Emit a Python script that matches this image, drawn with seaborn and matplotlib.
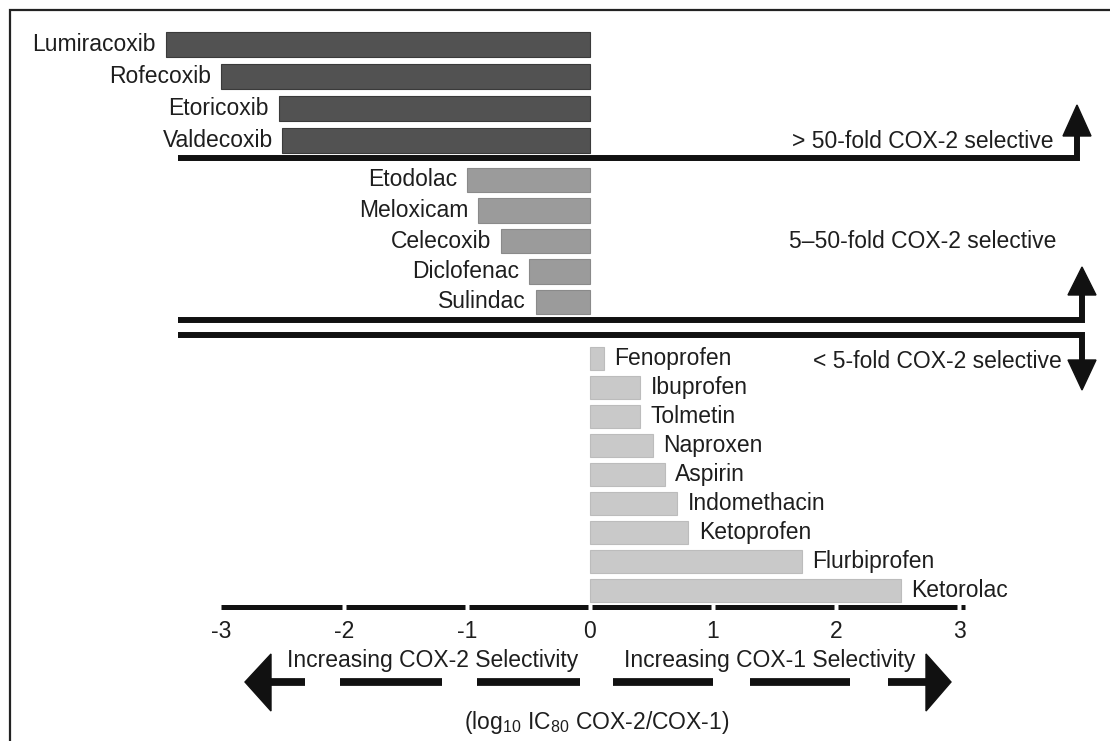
import matplotlib
matplotlib.use("Agg")
import matplotlib.pyplot as plt
import seaborn as sns
from matplotlib.patches import Polygon

# log10 IC80 ratio (COX-2 / COX-1) per drug, split by selectivity class
high_sel_names = ["Lumiracoxib", "Rofecoxib", "Etoricoxib", "Valdecoxib"]
high_sel_vals = [-3.45, -3.0, -2.53, -2.5]

mid_sel_names = ["Etodolac", "Meloxicam", "Celecoxib", "Diclofenac", "Sulindac"]
mid_sel_vals = [-1.0, -0.91, -0.72, -0.5, -0.44]

low_sel_names = ["Fenoprofen", "Ibuprofen", "Tolmetin", "Naproxen", "Aspirin",
                 "Indomethacin", "Ketoprofen", "Flurbiprofen", "Ketorolac"]
low_sel_vals = [0.11, 0.41, 0.41, 0.51, 0.61, 0.71, 0.8, 1.72, 2.53]

tick_vals = [-3, -2, -1, 0, 1, 2, 3]
tick_labels = ["-3", "-2", "-1", "0", "1", "2", "3"]

class_labels = ["> 50-fold COX-2 selective", "5\u201350-fold COX-2 selective",
                "< 5-fold COX-2 selective"]

sns.set_style("white")
plt.rcParams["font.family"] = ["Liberation Sans", "DejaVu Sans"]
plt.rcParams["mathtext.default"] = "regular"
plt.rcParams["mathtext.fontset"] = "custom"
plt.rcParams["mathtext.rm"] = "Liberation Sans"

W, H = 1110, 741
FS = 16.5
TXT = "#1e1e1e"
fig = plt.figure(figsize=(W / 100, H / 100), dpi=100)

# shared horizontal scale: value 0 at px 590, 123 px per unit
X0, PPU = 590.0, 123.0
AX_L, AX_R = 100, 1050
XLIM = ((AX_L - X0) / PPU, (AX_R - X0) / PPU)


def px_axes(top, bottom):
    return fig.add_axes([AX_L / W, (H - bottom) / H, (AX_R - AX_L) / W, (bottom - top) / H])


groups = [
    (high_sel_names, high_sel_vals, "#525252", "#3a3a3a", 0.81, 28.5, 156.5),
    (mid_sel_names, mid_sel_vals, "#9b9b9b", "#8a8a8a", 0.80, 164.75, 317.25),
    (low_sel_names, low_sel_vals, "#c9c9c9", "#bcbcbc", 0.78, 344.0, 605.0),
]

axes = []
for names, vals, col, ec, wid, top, bot in groups:
    ax = px_axes(top, bot)
    ax.patch.set_alpha(0)
    sns.barplot(x=vals, y=names, orient="h", color=col, saturation=1, width=wid,
                edgecolor=ec, linewidth=0.8, ax=ax)
    ax.set_xlim(*XLIM)
    ax.set_ylim(len(names) - 0.5, -0.5)
    for sp in ax.spines.values():
        sp.set_visible(False)
    ax.set_yticks([])
    ax.set_xticks([])
    ax.set_xlabel("")
    ax.set_ylabel("")
    for i, (n, v) in enumerate(zip(names, vals)):
        if v < 0:
            ax.annotate(n, xy=(v, i), xytext=(-7, 0), textcoords="offset points",
                        ha="right", va="center", fontsize=FS, color=TXT)
        else:
            ax.annotate(n, xy=(v, i), xytext=(7.5, 0), textcoords="offset points",
                        ha="left", va="center", fontsize=FS, color=TXT)
    axes.append(ax)

# value axis: thick segmented baseline with gaps at the integer ticks
ax = axes[-1]
ax.set_xticks(tick_vals, tick_labels)
ax.tick_params(axis="x", length=0, pad=11, labelsize=FS, labelcolor=TXT)
tr = ax.get_xaxis_transform()
y_base = -2.0 / 261
gap = 0.02
for a, b in zip(tick_vals[:-1], tick_vals[1:]):
    start = a if a == tick_vals[0] else a + gap
    ax.plot([start, b - gap], [y_base, y_base], color="#111111", lw=3.6,
            solid_capstyle="butt", transform=tr, clip_on=False)
ax.plot([tick_vals[-1] + gap, tick_vals[-1] + 0.045], [y_base, y_base], color="#111111",
        lw=3.6, solid_capstyle="butt", transform=tr, clip_on=False)

# overlay in pixel units for frame, class dividers and direction arrows
ov = fig.add_axes([0, 0, 1, 1])
ov.set_xlim(0, W)
ov.set_ylim(H, 0)
ov.axis("off")
ov.patch.set_alpha(0)

K = "#111111"
# frame
ov.plot([10, 10, W + 5], [H + 5, 10, 10], color="#222222", lw=1.6, solid_joinstyle="miter")

# class dividers with bent arrows
lw_div = 4.3
ov.plot([178, 1077, 1077], [158, 158, 134], color=K, lw=lw_div,
        solid_joinstyle="miter", solid_capstyle="butt")
ov.add_patch(Polygon([(1063, 136), (1091, 136), (1077, 105)], closed=True, color=K))
ov.plot([178, 1082, 1082], [320, 320, 293], color=K, lw=lw_div,
        solid_joinstyle="miter", solid_capstyle="butt")
ov.add_patch(Polygon([(1068, 295), (1096, 295), (1082, 267)], closed=True, color=K))
ov.plot([178, 1082, 1082], [335, 335, 362], color=K, lw=lw_div,
        solid_joinstyle="miter", solid_capstyle="butt")
ov.add_patch(Polygon([(1068, 360), (1096, 360), (1082, 390)], closed=True, color=K))

ov.text(1053, 142, class_labels[0], ha="right", va="center", fontsize=FS, color=TXT)
ov.text(1056, 242, class_labels[1], ha="right", va="center", fontsize=FS, color=TXT)
ov.text(1062, 362, class_labels[2], ha="right", va="center", fontsize=FS, color=TXT)

# dashed double-headed direction arrow
ya = 682
for a, b in [(268, 305), (340, 442), (477, 580), (613, 713), (750, 850), (888, 929)]:
    ov.plot([a, b], [ya, ya], color=K, lw=5.6, solid_capstyle="butt")
ov.add_patch(Polygon([(245, ya), (271, ya - 28), (271, ya + 29)], closed=True, color=K))
ov.add_patch(Polygon([(951, ya), (926, ya - 28), (926, ya + 29)], closed=True, color=K))

ov.text(433, 660, "Increasing COX-2 Selectivity", ha="center", va="center",
        fontsize=FS, color=TXT)
ov.text(770, 660, "Increasing COX-1 Selectivity", ha="center", va="center",
        fontsize=FS, color=TXT)
ov.text(597, 723, "(log$_{10}$ IC$_{80}$ COX-2/COX-1)", ha="center", va="center",
        fontsize=FS, color=TXT)

fig.savefig("out.png", dpi=100)
